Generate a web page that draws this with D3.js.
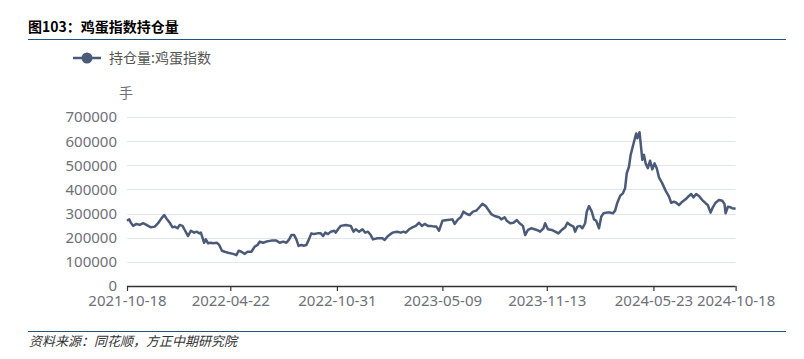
<!DOCTYPE html>
<meta charset="utf-8">
<body style="margin:0;background:#fff">
<style>
text { font-family: "Noto Sans", "Noto Sans CJK SC", sans-serif; }
.cjk { font-family: "Noto Sans CJK SC", sans-serif; }
.grid line { stroke: #e0e6f1; stroke-width: 1px; }
.tick-label { fill: #6e7079; font-size: 15px; }
</style>
<script src="https://cdn.jsdelivr.net/npm/d3@7"></script>
<script>

// 鸡蛋指数持仓量 (手)
var startDate = "2021-10-18";
var endDate = "2024-10-18";
var xTickLabels = ["2021-10-18", "2022-04-22", "2022-10-31", "2023-05-09", "2023-11-13", "2024-05-23", "2024-10-18"];
var yTicks = [0, 100000, 200000, 300000, 400000, 500000, 600000, 700000];

// days since startDate
var dayOffsets = [
  0, 4, 7, 11, 17, 23, 29, 35, 43, 50, 56, 62, 67, 71, 77, 82, 86, 91, 95, 100,
  104, 110, 115, 121, 126, 130, 133, 139, 142, 146, 151, 155, 162, 166, 171, 176,
  182, 191, 197, 201, 206, 212, 217, 224, 230, 235, 239, 245, 251, 260, 269, 275,
  281, 287, 292, 296, 301, 305, 309, 314, 319, 323, 327, 332, 337, 343, 349, 353,
  357, 362, 367, 373, 376, 380, 385, 394, 403, 408, 412, 418, 424, 429, 434, 439,
  443, 451, 460, 464, 470, 478, 486, 493, 498, 502, 508, 514, 520, 526, 531, 536,
  542, 547, 553, 557, 562, 568, 577, 586, 590, 596, 601, 606, 612, 617, 623, 629,
  633, 640, 646, 650, 656, 662, 670, 674, 680, 684, 690, 696, 702, 707, 713, 717,
  722, 728, 734, 738, 744, 750, 753, 758, 765, 771, 777, 783, 789, 793, 798, 804,
  807, 811, 816, 820, 825, 828, 832, 837, 841, 845, 850, 854, 858, 864, 870, 875,
  879, 883, 888, 893, 897, 900, 904, 907, 912, 917, 919, 923, 926, 928, 931, 934,
  938, 942, 946, 950, 954, 958, 964, 970, 976, 980, 985, 989, 994, 1000, 1006, 1012,
  1016, 1020, 1025, 1030, 1036, 1042, 1046, 1051, 1055, 1060, 1066, 1072, 1076, 1078, 1082, 1087,
  1090, 1096
];

var holdValues = [
  270000, 276000, 262000, 249000, 257000, 253000, 260000, 253000, 243000, 246000, 260000, 280000, 294000, 280000, 262000, 243000, 246000, 239000, 253000, 249000,
  232000, 207000, 229000, 221000, 225000, 218000, 221000, 179000, 193000, 177000, 179000, 177000, 179000, 170000, 146000, 142000,
  138000, 133000, 128000, 146000, 142000, 133000, 142000, 142000, 163000, 170000, 184000, 179000, 184000, 188000, 188000, 179000,
  184000, 179000, 193000, 211000, 211000, 193000, 166000, 170000, 167000, 170000, 190000, 218000, 215000, 218000, 218000, 207000,
  221000, 215000, 225000, 229000, 221000, 235000, 249000, 253000, 249000, 225000, 235000, 225000, 235000, 221000, 225000, 211000,
  193000, 198000, 198000, 191000, 207000, 221000, 225000, 221000, 225000, 221000, 235000, 243000, 249000, 262000, 249000, 257000,
  249000, 249000, 246000, 246000, 229000, 270000, 273000, 276000, 257000, 276000, 285000, 308000, 298000, 294000, 308000, 312000,
  322000, 340000, 331000, 318000, 298000, 290000, 285000, 276000, 285000, 270000, 260000, 262000, 273000, 260000, 249000, 211000,
  232000, 239000, 235000, 232000, 225000, 239000, 260000, 235000, 232000, 225000, 218000, 232000, 243000, 262000, 253000, 246000,
  225000, 246000, 249000, 239000, 260000, 308000, 331000, 308000, 276000, 270000, 239000, 287000, 301000, 304000, 304000, 301000,
  312000, 345000, 373000, 384000, 405000, 467000, 494000, 543000, 588000, 632000, 612000, 637000, 570000, 522000, 543000, 508000,
  488000, 519000, 483000, 508000, 488000, 450000, 425000, 395000, 370000, 345000, 349000, 345000, 335000, 349000, 359000, 373000,
  381000, 367000, 381000, 373000, 356000, 343000, 335000, 304000, 326000, 345000, 356000, 353000, 340000, 301000, 328000, 326000,
  322000, 320000
];

var parse = d3.timeParse("%Y-%m-%d");
var start = parse(startDate);
var data = dayOffsets.map(function(d, i) {
  return { date: d3.timeDay.offset(start, d), value: holdValues[i] };
});

var width = 804, height = 359;
var plot = { left: 127, right: 735.6, top: 117, bottom: 286 };
var lineColor = "#4a5a78";

var svg = d3.select("body").append("svg")
    .attr("width", width)
    .attr("height", height);

svg.append("rect").attr("width", width).attr("height", height).attr("fill", "#fff");

var x = d3.scaleTime()
    .domain([start, parse(endDate)])
    .range([plot.left, plot.right]);

var y = d3.scaleLinear()
    .domain([0, 700000])
    .range([plot.bottom, plot.top]);

// title + rules
svg.append("text")
    .attr("class", "cjk")
    .attr("x", 28).attr("y", 32)
    .style("font-size", "14px").style("font-weight", "bold").style("fill", "#000")
    .text("图103：鸡蛋指数持仓量");

svg.append("line")
    .attr("x1", 28).attr("x2", 786).attr("y1", 39.5).attr("y2", 39.5)
    .style("stroke", "#1f5585").style("stroke-width", 1.2);

svg.append("line")
    .attr("x1", 28).attr("x2", 786).attr("y1", 331.5).attr("y2", 331.5)
    .style("stroke", "#1f5585").style("stroke-width", 1.2);

svg.append("text")
    .attr("class", "cjk")
    .attr("x", 29).attr("y", 346)
    .style("font-size", "13px").style("font-style", "italic").style("fill", "#333")
    .text("资料来源：同花顺，方正中期研究院");

// legend
var legend = svg.append("g").attr("transform", "translate(73,58)");
legend.append("line").attr("x1", 0).attr("x2", 28)
    .style("stroke", lineColor).style("stroke-width", 2.5);
legend.append("circle").attr("cx", 14).attr("r", 5.5).style("fill", lineColor);
legend.append("text")
    .attr("class", "cjk")
    .attr("x", 36).attr("y", 5)
    .style("font-size", "14px").style("fill", "#555")
    .text("持仓量:鸡蛋指数");

// unit
svg.append("text")
    .attr("class", "cjk")
    .attr("x", 126).attr("y", 98)
    .attr("text-anchor", "middle")
    .style("font-size", "14px").style("fill", "#6e7079")
    .text("手");

// grid
svg.append("g").attr("class", "grid")
  .selectAll("line")
  .data(yTicks.slice(1))
  .enter().append("line")
    .attr("x1", plot.left).attr("x2", plot.right)
    .attr("y1", function(d) { return Math.round(y(d)) + 0.5; })
    .attr("y2", function(d) { return Math.round(y(d)) + 0.5; });

// y axis labels
svg.append("g")
  .selectAll("text")
  .data(yTicks)
  .enter().append("text")
    .attr("class", "tick-label")
    .attr("x", 117)
    .attr("y", function(d) { return y(d); })
    .attr("dy", "0.36em")
    .attr("text-anchor", "end")
    .text(function(d) { return d; });

// x axis
var xAxis = d3.axisBottom(x)
    .tickValues(xTickLabels.map(parse))
    .tickFormat(d3.timeFormat("%Y-%m-%d"))
    .tickSize(5)
    .tickPadding(4);

var gx = svg.append("g")
    .attr("transform", "translate(0," + plot.bottom + ")")
    .call(xAxis);
gx.select(".domain").attr("d", "M" + plot.left + ",0.5H" + plot.right)
    .style("stroke", "#333").style("stroke-width", 1.5);
gx.selectAll(".tick line").style("stroke", "#333").style("stroke-width", 1.2);
gx.selectAll(".tick text")
    .attr("class", "tick-label")
    .style("font-family", "'Noto Sans', sans-serif");

// line
svg.append("path")
    .datum(data)
    .attr("d", d3.line()
      .x(function(d) { return x(d.date); })
      .y(function(d) { return y(d.value); }))
    .style("fill", "none")
    .style("stroke", lineColor)
    .style("stroke-width", 2.5)
    .style("stroke-linejoin", "round");

</script>
